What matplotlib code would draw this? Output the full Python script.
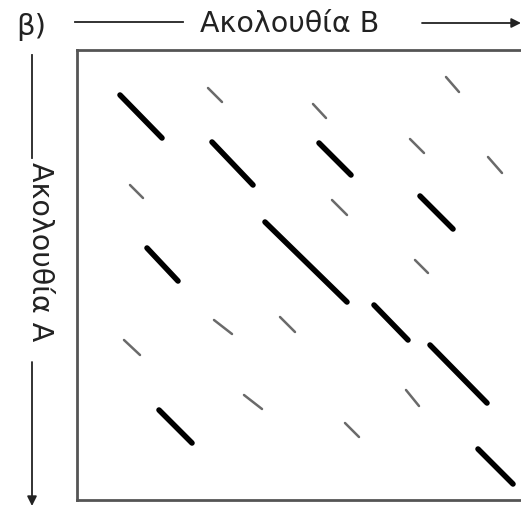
import matplotlib
matplotlib.use("Agg")
import matplotlib.pyplot as plt

# Dot-plot diagonal segments (position in sequence B on x, sequence A on y)
thick_x0 = [43, 135, 242, 343, 188, 70, 297, 353, 82, 401]
thick_y0 = [45, 92, 93, 146, 172, 198, 255, 295, 360, 399]
thick_x1 = [85, 176, 274, 376, 270, 101, 331, 410, 115, 436]
thick_y1 = [88, 135, 125, 179, 252, 231, 290, 353, 393, 434]

thin_x0 = [131, 236, 369, 333, 411, 53, 255, 338, 137, 203, 47, 167, 329, 268]
thin_y0 = [38, 54, 27, 89, 107, 135, 150, 210, 270, 267, 290, 345, 340, 373]
thin_x1 = [145, 249, 382, 347, 425, 66, 270, 351, 155, 218, 63, 185, 342, 282]
thin_y1 = [52, 68, 42, 103, 123, 148, 165, 223, 284, 282, 305, 359, 356, 387]

label_b = "Ακολουθία B"
label_a = "Ακολουθία A"
panel = "β)"

W, H = 521, 509
fig = plt.figure(figsize=(W / 100, H / 100), dpi=100)
fig.patch.set_facecolor("white")

# main dot-plot box
left_px, top_px, bottom_px, right_px = 77, 50, 500, 527
ax = fig.add_axes([left_px / W, 1 - bottom_px / H,
                   (right_px - left_px) / W, (bottom_px - top_px) / H])
ax.set_xlim(0, right_px - left_px)
ax.set_ylim(bottom_px - top_px, 0)
ax.set_xticks([])
ax.set_yticks([])
for s in ax.spines.values():
    s.set_color("#555555")
    s.set_linewidth(2.0)

for a, b, c, d in zip(thick_x0, thick_y0, thick_x1, thick_y1):
    ax.plot([a, c], [b, d], color="black", lw=4.0, solid_capstyle="round")
for a, b, c, d in zip(thin_x0, thin_y0, thin_x1, thin_y1):
    ax.plot([a, c], [b, d], color="#6a6a6a", lw=1.8, solid_capstyle="round")

# overlay for labels and arrows (figure pixel coordinates)
ov = fig.add_axes([0, 0, 1, 1], facecolor="none")
ov.set_xlim(0, W)
ov.set_ylim(H, 0)
ov.axis("off")

font = "DejaVu Sans"
ov.text(31, 27, panel, fontsize=21, family=font, ha="center", va="center", color="#222222")
ov.text(290, 24, label_b, fontsize=20.5, family=font, ha="center", va="center", color="#222222")
ov.plot([75, 183], [22, 22], color="#222222", lw=1.3)
ov.annotate("", xy=(521, 23), xytext=(422, 23),
            arrowprops=dict(arrowstyle="-|>", color="#222222", lw=1.3,
                            mutation_scale=14, shrinkA=0, shrinkB=0))

ov.text(40, 252, label_a, fontsize=20.5, family=font, ha="center", va="center",
        rotation=-90, color="#222222")
ov.plot([32, 32], [55, 158], color="#222222", lw=1.3)
ov.annotate("", xy=(32, 506), xytext=(32, 362),
            arrowprops=dict(arrowstyle="-|>", color="#222222", lw=1.3,
                            mutation_scale=14, shrinkA=0, shrinkB=0))

fig.savefig("out.png", dpi=100)
